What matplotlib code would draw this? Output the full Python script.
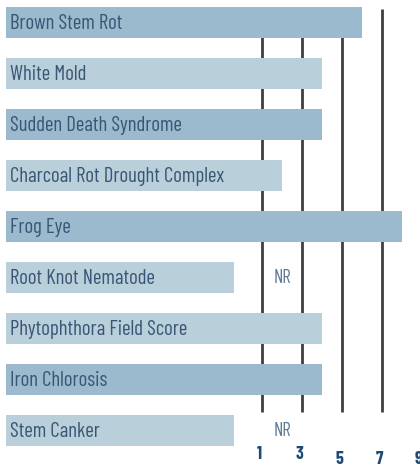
import matplotlib.pyplot as plt

# categories, top to bottom
traits = ["Brown Stem Rot", "White Mold", "Sudden Death Syndrome",
          "Charcoal Rot Drought Complex", "Frog Eye", "Root Knot Nematode",
          "Phytophthora Field Score", "Iron Chlorosis", "Stem Canker"]
# scores on the 1-9 scale, None = not rated
scores = [6, 4, 4, 2, 8, None, 4, 4, None]
ticks = [1, 3, 5, 7, 9]

DARK = "#9bbacd"
LIGHT = "#b9d0db"
shade = [DARK, LIGHT, DARK, LIGHT, DARK, LIGHT, LIGHT, DARK, LIGHT]
TEXT = "#3a5676"
LINE = "#3f3f3f"
NR_END = -0.4  # where the short "not rated" bars stop

plt.rcParams['font.family'] = ['Barlow Condensed', 'Roboto Condensed', 'DejaVu Sans']

fig = plt.figure(figsize=(4.2, 4.68), dpi=100)
ax = fig.add_axes([0, 0, 1, 1])
x0, x1 = -12.1, 8.9
ax.set_xlim(x0, x1)
ax.set_ylim(8.735, -0.441)
ax.axis("off")

# grid lines behind the bars
ax.vlines(ticks, -0.265, 7.64, color=LINE, lw=2, zorder=1)

bar_left = -11.8
for i, (name, val) in enumerate(zip(traits, scores)):
    end = NR_END if val is None else val
    ax.barh(i, end - bar_left, left=bar_left, height=0.62,
            color=shade[i], zorder=2)
    ax.text(bar_left + 0.2, i + 0.02, name, va="center", ha="left",
            fontsize=15, color=TEXT, zorder=3)
    if val is None:
        ax.text(2, i, "NR", va="center", ha="center",
                fontsize=13.5, color="#5b7896", zorder=3)

for t, dy in zip(ticks, [0, 0, 0.1, 0.1, 0.1]):
    ax.text(t - 0.15, 8.47 + dy, str(t), ha="center", va="center",
            fontsize=13, fontweight="bold", color="#1f4a78")

fig.savefig("out.png", dpi=100)
